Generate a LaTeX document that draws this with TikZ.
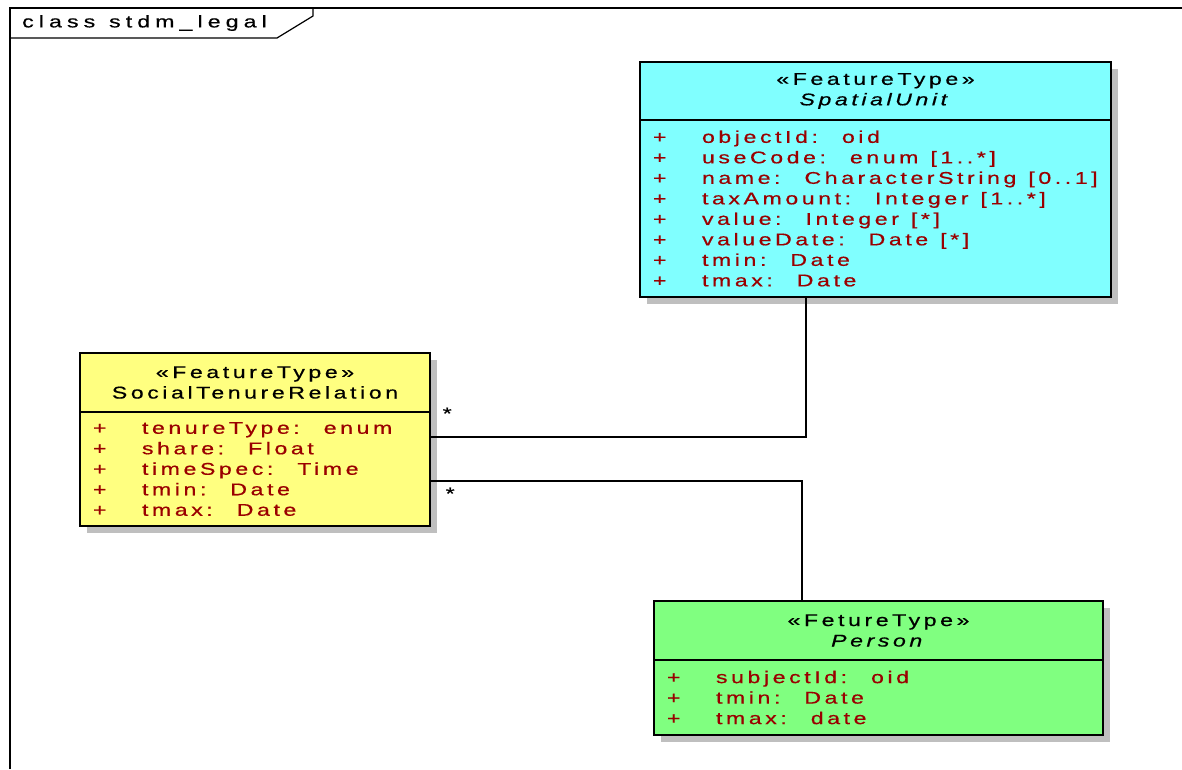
\documentclass[tikz,border=0pt]{standalone}
\usepackage{fontspec}
\usetikzlibrary{positioning,shadows}
\newfontfamily\umlfont{Liberation Sans}[FakeStretch=1.36, LetterSpace=21, FakeBold=0.6, WordSpace=1.2]
\definecolor{suCyan}{HTML}{80FFFF}
\definecolor{strYellow}{HTML}{FFFF80}
\definecolor{psGreen}{HTML}{80FF80}
\definecolor{attrRed}{HTML}{9A0000}
\newcommand{\attrow}[1]{\makebox[49pt][l]{+}{\spaceskip=0pt\relax #1}}

\begin{document}
\begin{tikzpicture}[x=1pt, y=-1pt, node distance=0pt,
 font=\umlfont\fontsize{17}{20.5}\selectfont,
 umlbox/.style={draw, line width=1.6pt, inner ysep=0pt, outer sep=0pt,
   general shadow={fill=black!25, shadow xshift=7pt, shadow yshift=-7pt}},
 head/.style={umlbox, align=center, inner xsep=20pt},
 attrs/.style={umlbox, align=left, inner xsep=13pt, text=attrRed, anchor=north},
 assoc/.style={draw, line width=1.4pt}]
\useasboundingbox (0,0) rectangle (1182,769);
% frame
\draw[line width=1.4pt] (10,769) -- (10,8) -- (1182,8);
\draw[line width=1.2pt] (10,38) -- (277,38) -- (313,16) -- (313,8);
\node[anchor=west, inner sep=0pt] (title) at (22,23) {\addfontfeature{LetterSpace=30}class stdm\_legal};

% classes
\node[head, fill=suCyan, anchor=north west, text width=431pt, minimum height=58pt] (suHead) at (640,62)
 {«FeatureType»\\ \textit{SpatialUnit}};
\node[attrs, fill=suCyan, below=of suHead.south, text width=445pt, minimum height=177pt] (suAttr)
 {\attrow{objectId:\ \ oid}\\ \attrow{useCode:\ \ enum [1..*]}\\ \attrow{name:\ \ CharacterString [0..1]}\\
  \attrow{taxAmount:\ \ Integer [1..*]}\\ \attrow{value:\ \ Integer [*]}\\ \attrow{valueDate:\ \ Date [*]}\\
  \attrow{tmin:\ \ Date}\\ \attrow{tmax:\ \ Date}};

\node[head, fill=strYellow, anchor=north west, text width=310pt, minimum height=59pt] (strHead) at (80,353)
 {«FeatureType»\\ SocialTenureRelation};
\node[attrs, fill=strYellow, below=of strHead.south, text width=324pt, minimum height=114pt] (strAttr)
 {\attrow{tenureType:\ \ enum}\\ \attrow{share:\ \ Float}\\ \attrow{timeSpec:\ \ Time}\\
  \attrow{tmin:\ \ Date}\\ \attrow{tmax:\ \ Date}};

\node[head, fill=psGreen, anchor=north west, text width=409pt, minimum height=59pt] (psHead) at (654,601)
 {«FetureType»\\ \textit{Person}};
\node[attrs, fill=psGreen, below=of psHead.south, text width=423pt, minimum height=75pt] (psAttr)
 {\attrow{subjectId:\ \ oid}\\ \attrow{tmin:\ \ Date}\\ \attrow{tmax:\ \ date}};

% associations
\draw[assoc] ([yshift=-25pt]strAttr.north east) -| ([xshift=166pt]suAttr.south west)
 node[pos=0, anchor=south west, xshift=12pt, yshift=17pt, inner sep=0pt] (m1) {*};
\draw[assoc] ([yshift=-69pt]strAttr.north east) -| ([xshift=148pt]psHead.north west)
 node[pos=0, anchor=north west, xshift=15pt, yshift=-6pt, inner sep=0pt] (m2) {*};
\end{tikzpicture}
\end{document}
